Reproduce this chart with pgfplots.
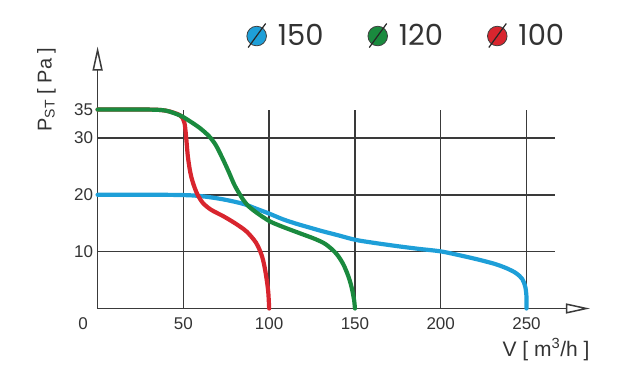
\documentclass[border=0pt]{standalone}
\usepackage{fontspec}
\setmainfont{Liberation Sans}
\newfontfamily\legfont{Poppins}
\usepackage{pgfplots}
\pgfplotsset{compat=1.18}
\usetikzlibrary{arrows.meta}
\definecolor{cblue}{HTML}{1E9FD8}
\definecolor{cgreen}{HTML}{1A8A3E}
\definecolor{cred}{HTML}{D8252E}
\definecolor{axgray}{HTML}{3A3A3A}
\definecolor{txtgray}{HTML}{333333}
\begin{document}
\begin{tikzpicture}
\begin{axis}[
  x=1.7156bp, y=5.683bp,
  xmin=0, xmax=287, ymin=0, ymax=46.1,
  at={(97.6bp,63.5bp)}, anchor=origin,
  clip=false,
  axis lines*=left,
  axis line style={draw=axgray, line width=1.5bp, -{Triangle[open, length=24bp, width=10bp]}},
  xtick={50,100,150,200,250},
  ytick={10,20,30,35},
  extra x ticks={0},
  extra x tick style={xticklabel style={xshift=-14.6bp}},
  major tick length=0pt,
  tick style={draw=none},
  /pgf/number format/assume math mode=true,
  ticklabel style={font=\fontsize{17bp}{20bp}\selectfont, text=txtgray},
  xticklabel style={yshift=-6bp},
  yticklabel style={xshift=-1bp},
  legend columns=3,
  legend style={draw=none, fill=none, at={(0.627,1.040)}, anchor=center,
    font=\legfont\fontsize{29bp}{32bp}\selectfont, text=txtgray,
    /tikz/every even column/.append style={column sep=42bp},
    /tikz/every odd column/.append style={column sep=9bp}},
]
% grid
\addplot[forget plot, axgray, line width=1.5bp] coordinates {(0,10) (266.6,10)};
\addplot[forget plot, axgray, line width=1.5bp] coordinates {(0,20) (266.6,20)};
\addplot[forget plot, axgray, line width=1.5bp] coordinates {(0,30) (266.6,30)};
\addplot[forget plot, axgray, line width=1.5bp] coordinates {(50,0) (50,35)};
\addplot[forget plot, axgray, line width=1.5bp] coordinates {(100,0) (100,35)};
\addplot[forget plot, axgray, line width=1.5bp] coordinates {(150,0) (150,35)};
\addplot[forget plot, axgray, line width=1.5bp] coordinates {(200,0) (200,35)};
\addplot[forget plot, axgray, line width=1.5bp] coordinates {(250,0) (250,35)};
% legend images
\addlegendimage{legend image code/.code={
  \draw[draw=black!75, fill=cblue, line width=0.8bp] (0.25cm,0) circle (9.8bp);
  \draw[black!85, line width=1.2bp] (0.25cm-8.5bp,-11.5bp) -- (0.25cm+9bp,12.5bp);}}
\addlegendentry{150}
\addlegendimage{legend image code/.code={
  \draw[draw=black!75, fill=cgreen, line width=0.8bp] (0.25cm,0) circle (9.8bp);
  \draw[black!85, line width=1.2bp] (0.25cm-8.5bp,-11.5bp) -- (0.25cm+9bp,12.5bp);}}
\addlegendentry{120}
\addlegendimage{legend image code/.code={
  \draw[draw=black!75, fill=cred, line width=0.8bp] (0.25cm,0) circle (9.8bp);
  \draw[black!85, line width=1.2bp] (0.25cm-8.5bp,-11.5bp) -- (0.25cm+9bp,12.5bp);}}
\addlegendentry{100}
% curves
\addplot[forget plot, cblue, line width=4.2bp, line cap=round, smooth, tension=0.5] coordinates {
(0,20) (40,20) (55,19.9) (65,19.6) (75,19.1) (85,18.4) (93,17.5) (100,16.7) (108,15.7)
(116,14.9) (124,14.2) (131,13.6) (140,12.9) (150,12.1) (160,11.6) (174,11.0) (187,10.5)
(200,10.05) (212,9.3) (222,8.6) (232,7.8) (239,7.0) (244,6.2) (247.5,5.2) (249.3,3.8) (250,2) (250,0)};
\addplot[forget plot, cred, line width=4.2bp, line cap=round, smooth, tension=0.5] coordinates {
(0,35) (30,35) (40,34.8) (48,34) (50.5,32.8) (51.5,30.5) (52.6,26.8) (54,24) (55.5,22.2)
(58,20.2) (61.3,18.6) (66,17.4) (72.9,16.3) (78,15.4) (82.6,14.5) (87,13.5) (92.3,11.6)
(95.5,9.5) (97.2,7.5) (98.6,5) (99.5,2.8) (100,0)};
\addplot[forget plot, cgreen, line width=4.2bp, line cap=round, smooth, tension=0.5] coordinates {
(0,35) (30,35) (40,34.8) (47.8,34) (52,33.3) (59.4,31.8) (65,30.3) (69,28.7) (73,26.3)
(76.5,24) (80,21.6) (84.7,19.2) (88,18) (92.5,16.9) (100,15.4) (106,14.6) (112,13.9)
(120,13) (127,12.2) (133,11.3) (139,9.7) (143,7.9) (146,5.8) (148,3.8) (149.5,1.5) (150,0)};
\end{axis}
\node[rotate=90, anchor=base west, font=\fontsize{20bp}{24bp}\selectfont, text=txtgray]
  at (51.5bp,237bp) {P\textsubscript{ST} [ Pa ]};
\node[anchor=base east, font=\fontsize{21bp}{24bp}\selectfont, text=txtgray]
  at (593bp,16bp) {V [ m\textsuperscript{3}/h ]};
\pgfresetboundingbox
\path[use as bounding box] (0,0) rectangle (641bp,372bp);
\end{tikzpicture}
\end{document}
